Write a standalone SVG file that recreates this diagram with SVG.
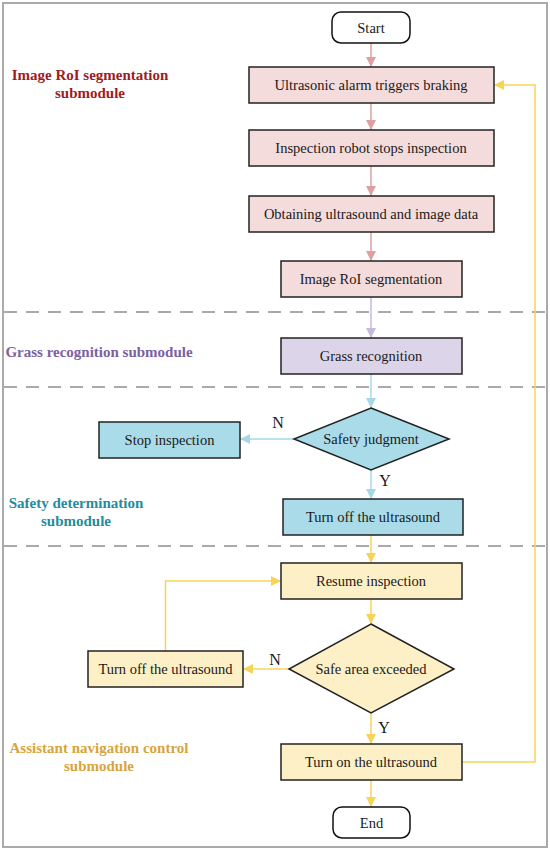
<svg xmlns="http://www.w3.org/2000/svg" width="550" height="852" viewBox="0 0 550 852">
<style>
.box{stroke:#222;stroke-width:1.5}
.pink{fill:#f5dcdc}
.purple{fill:#dcd5ea}
.blue{fill:#a9dbe8}
.yellow{fill:#fdf0c6}
.term{fill:#fff;stroke:#111;stroke-width:1.5}
.t{font-family:"Liberation Serif","Times New Roman",serif;font-size:14.5px;fill:#1a1a1a;text-anchor:middle}
.lab{font-family:"Liberation Serif","Times New Roman",serif;font-size:15px;font-weight:bold;text-anchor:middle}
.yn{font-family:"Liberation Serif","Times New Roman",serif;font-size:16px;fill:#1a1a1a;text-anchor:middle}
.dash{stroke:#aaa;stroke-width:2;stroke-dasharray:13,9;fill:none}
.cp{stroke:#e0a0a0;stroke-width:1.5;fill:none}
.cv{stroke:#c6badb;stroke-width:1.5;fill:none}
.cb{stroke:#a6d9e8;stroke-width:1.5;fill:none}
.cy{stroke:#f8d35a;stroke-width:1.5;fill:none}
</style>
<defs>
<marker id="ap" markerWidth="10" markerHeight="10" refX="10" refY="5" orient="auto" markerUnits="userSpaceOnUse" viewBox="0 0 10 10"><path d="M0,0 L10,5 L0,10 z" fill="#e0a0a0"/></marker>
<marker id="av" markerWidth="10" markerHeight="10" refX="10" refY="5" orient="auto" markerUnits="userSpaceOnUse" viewBox="0 0 10 10"><path d="M0,0 L10,5 L0,10 z" fill="#c6badb"/></marker>
<marker id="ab" markerWidth="10" markerHeight="10" refX="10" refY="5" orient="auto" markerUnits="userSpaceOnUse" viewBox="0 0 10 10"><path d="M0,0 L10,5 L0,10 z" fill="#a6d9e8"/></marker>
<marker id="ay" markerWidth="10" markerHeight="10" refX="10" refY="5" orient="auto" markerUnits="userSpaceOnUse" viewBox="0 0 10 10"><path d="M0,0 L10,5 L0,10 z" fill="#f8d35a"/></marker>
</defs>
<rect x="0" y="0" width="550" height="852" fill="#fff"/>
<rect x="3" y="3" width="544" height="844" fill="#fff" stroke="#aaa" stroke-width="2"/>
<g id="separators">
<line class="dash" x1="4" y1="312" x2="546" y2="312"/>
<line class="dash" x1="4" y1="387" x2="546" y2="387"/>
<line class="dash" x1="4" y1="546" x2="546" y2="546"/>
</g>
<g id="module-labels">
<text class="lab" fill="#9e1c1c" x="90" y="80">Image RoI segmentation</text>
<text class="lab" fill="#9e1c1c" x="90" y="98">submodule</text>
<text class="lab" fill="#7a62a0" x="99" y="357">Grass recognition submodule</text>
<text class="lab" fill="#1f8d9c" x="76" y="508">Safety determination</text>
<text class="lab" fill="#1f8d9c" x="76" y="526">submodule</text>
<text class="lab" fill="#d8a43c" x="99" y="753">Assistant navigation control</text>
<text class="lab" fill="#d8a43c" x="99" y="771">submodule</text>
</g>
<g id="connectors">
<line class="cp" x1="371" y1="43" x2="371" y2="67" marker-end="url(#ap)"/>
<line class="cp" x1="371" y1="103" x2="371" y2="130" marker-end="url(#ap)"/>
<line class="cp" x1="371" y1="166" x2="371" y2="196" marker-end="url(#ap)"/>
<line class="cp" x1="371" y1="232" x2="371" y2="261" marker-end="url(#ap)"/>
<line class="cv" x1="371" y1="297" x2="371" y2="338" marker-end="url(#av)"/>
<line class="cb" x1="371" y1="374" x2="371" y2="408" marker-end="url(#ab)"/>
<line class="cb" x1="294" y1="439" x2="240" y2="439" marker-end="url(#ab)"/>
<line class="cb" x1="371" y1="470" x2="371" y2="499" marker-end="url(#ab)"/>
<line class="cy" x1="371" y1="535" x2="371" y2="563" marker-end="url(#ay)"/>
<line class="cy" x1="371" y1="599" x2="371" y2="624" marker-end="url(#ay)"/>
<line class="cy" x1="289" y1="669" x2="243" y2="669" marker-end="url(#ay)"/>
<polyline class="cy" points="165.5,651 165.5,581 281,581" marker-end="url(#ay)"/>
<line class="cy" x1="371" y1="713" x2="371" y2="744" marker-end="url(#ay)"/>
<line class="cy" x1="371" y1="780" x2="371" y2="807" marker-end="url(#ay)"/>
<polyline class="cy" points="462,762 535,762 535,85 494,85" marker-end="url(#ay)"/>
<text class="yn" x="278" y="428">N</text>
<text class="yn" x="385" y="486">Y</text>
<text class="yn" x="275" y="665">N</text>
<text class="yn" x="384" y="733">Y</text>
</g>
<g id="start"><rect class="term" x="332" y="12" width="78" height="31" rx="9"/><text class="t" x="371" y="32.5">Start</text></g>
<g id="alarm"><rect class="box pink" x="249" y="67" width="245" height="36"/><text class="t" x="371" y="90">Ultrasonic alarm triggers braking</text></g>
<g id="stop-robot"><rect class="box pink" x="249" y="130" width="245" height="36"/><text class="t" x="371" y="153">Inspection robot stops inspection</text></g>
<g id="obtain"><rect class="box pink" x="249" y="196" width="245" height="36"/><text class="t" x="371" y="219">Obtaining ultrasound and image data</text></g>
<g id="roi"><rect class="box pink" x="281" y="261" width="181" height="36"/><text class="t" x="371" y="284">Image RoI segmentation</text></g>
<g id="grass"><rect class="box purple" x="281" y="338" width="181" height="36"/><text class="t" x="371" y="361">Grass recognition</text></g>
<g id="safety"><polygon class="box blue" points="371,408 449,439 371,470 294,439"/><text class="t" x="371" y="444">Safety judgment</text></g>
<g id="stop-insp"><rect class="box blue" x="99" y="422" width="141" height="36"/><text class="t" x="169.5" y="445">Stop inspection</text></g>
<g id="off1"><rect class="box blue" x="283" y="499" width="180" height="36"/><text class="t" x="373" y="522">Turn off the ultrasound</text></g>
<g id="resume"><rect class="box yellow" x="281" y="563" width="181" height="36"/><text class="t" x="371" y="586">Resume inspection</text></g>
<g id="safe-area"><polygon class="box yellow" points="371,624 454,669 371,713 289,669"/><text class="t" x="371" y="674">Safe area exceeded</text></g>
<g id="off2"><rect class="box yellow" x="88" y="651" width="155" height="36"/><text class="t" x="165.5" y="674">Turn off the ultrasound</text></g>
<g id="on"><rect class="box yellow" x="281" y="744" width="181" height="36"/><text class="t" x="371" y="767">Turn on the ultrasound</text></g>
<g id="end"><rect class="term" x="333" y="807" width="77" height="31" rx="9"/><text class="t" x="371.5" y="827.5">End</text></g>
</svg>
